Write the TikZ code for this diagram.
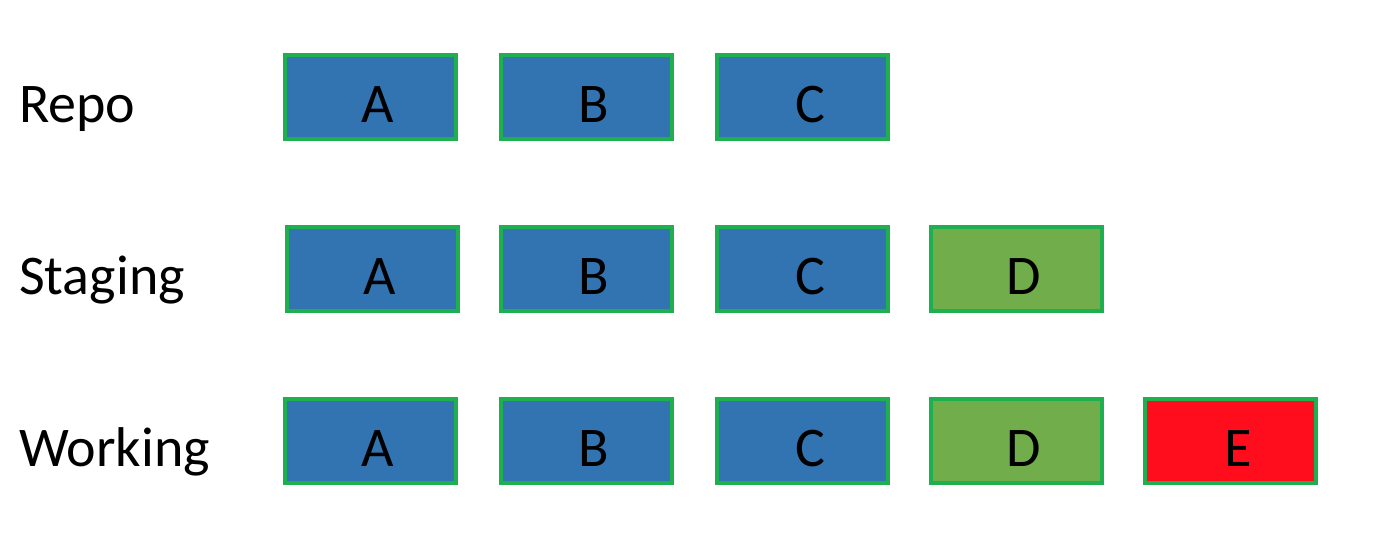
\documentclass[tikz,border=0pt]{standalone}
\usepackage{fontspec}
\setmainfont{Carlito}
\usetikzlibrary{positioning}

\definecolor{commitblue}{HTML}{3274B1}
\definecolor{stagedgreen}{HTML}{71AD4B}
\definecolor{changedred}{HTML}{FF0D1D}
\definecolor{edgegreen}{HTML}{1EB04E}

\begin{document}
\begin{tikzpicture}[
    x=1pt, y=-1pt,
    node distance=42pt,
    file/.style={
        rectangle,
        draw=edgegreen,
        line width=4pt,
        minimum width=171pt,
        minimum height=84pt,
        inner sep=0pt,
        text height=51pt,
        text depth=0pt,
        font=\fontsize{56}{60}\selectfont,
        execute at begin node={\hspace*{16pt}}
    },
    committed/.style={file, fill=commitblue},
    staged/.style={file, fill=stagedgreen},
    changed/.style={file, fill=changedred},
    area/.style={anchor=base west, inner sep=0pt, font=\fontsize{56}{60}\selectfont}
]
\useasboundingbox (0,0) rectangle (1384,544);

% Labels
\node[area] (repo) at (19,122) {Repo};
\node[area] (staging) at (19,294) {Staging};
\node[area] (working) at (19,466) {Working};

% Repo
\node[committed] (repoA) at (370,96.5) {A};
\node[committed, right=41pt of repoA] (repoB) {B};
\node[committed, right=41pt of repoB] (repoC) {C};

% Staging
\node[committed, below=84pt of repoA, xshift=2pt] (stageA) {A};
\node[committed, below=84pt of repoB] (stageB) {B};
\node[committed, right=41pt of stageB] (stageC) {C};
\node[staged, right=39pt of stageC] (stageD) {D};

% Working
\node[committed, below=84pt of stageA, xshift=-2pt] (workA) {A};
\node[committed, below=84pt of stageB] (workB) {B};
\node[committed, right=41pt of workB] (workC) {C};
\node[staged, right=39pt of workC] (workD) {D};
\node[changed, right=39pt of workD] (workE) {E};

\end{tikzpicture}
\end{document}
